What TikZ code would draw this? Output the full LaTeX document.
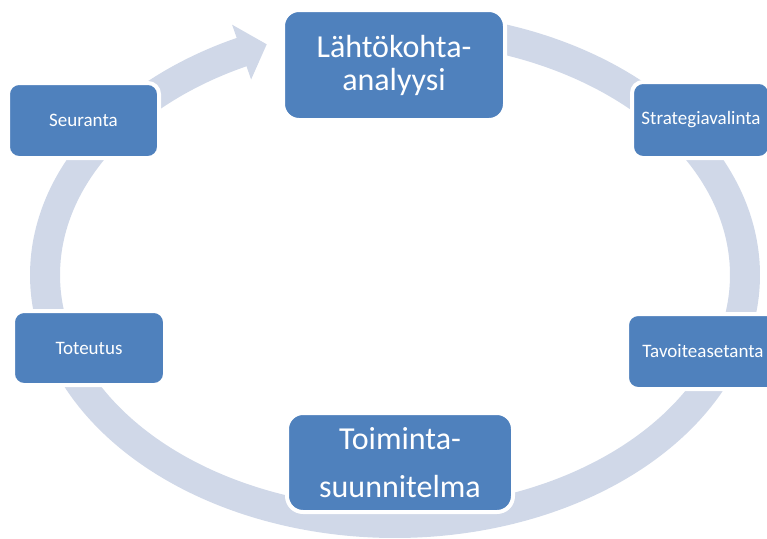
\documentclass[tikz,border=0pt]{standalone}
\usepackage{fontspec}
\setmainfont{Carlito}
\definecolor{boxblue}{HTML}{4F81BD}
\definecolor{ringblue}{HTML}{D0D8E8}
\begin{document}
\begin{tikzpicture}[x=1pt,y=-1pt,
  stage/.style={fill=boxblue, draw=white, line width=4pt, rounded corners=11pt,
    text=white, inner sep=0pt, align=center},
  small/.style={stage, font=\fontsize{19}{23}\selectfont},
  big/.style={stage, rounded corners=16pt},
  ring/.style={draw=ringblue, line width=30pt}]
\useasboundingbox (0,0) rectangle (767,538);
% ring with arrow head
\draw[ring] plot[domain=280:604.5, samples=300, variable=\t]
  ({395+350*cos(\t)},{275+248*sin(\t)});
\fill[ringblue] (232.1,24.7) -- (266.7,44.3) -- (251.1,79.5) -- cycle;
% stages
\node[big, minimum width=222pt, minimum height=110pt,
  font=\fontsize{32}{33}\selectfont] (lahto) at (394,65) {Lähtökohta-\\analyysi};
\node[small, minimum width=151pt, minimum height=75pt] (seur) at (83.5,120.5) {Seuranta};
\node[small, minimum width=138pt, minimum height=76pt] (strat) at (701,120) {Strategiavalinta};
\node[small, minimum width=152pt, minimum height=74pt] (tot) at (89,348) {Toteutus};
\node[small, minimum width=152pt, minimum height=75pt] (tav) at (703,351.5) {Tavoiteasetanta};
\node[big, minimum width=226pt, minimum height=99pt,
  font=\fontsize{32}{48}\selectfont] (toim) at (400,462.5) {Toiminta-\\suunnitelma};
\end{tikzpicture}
\end{document}
